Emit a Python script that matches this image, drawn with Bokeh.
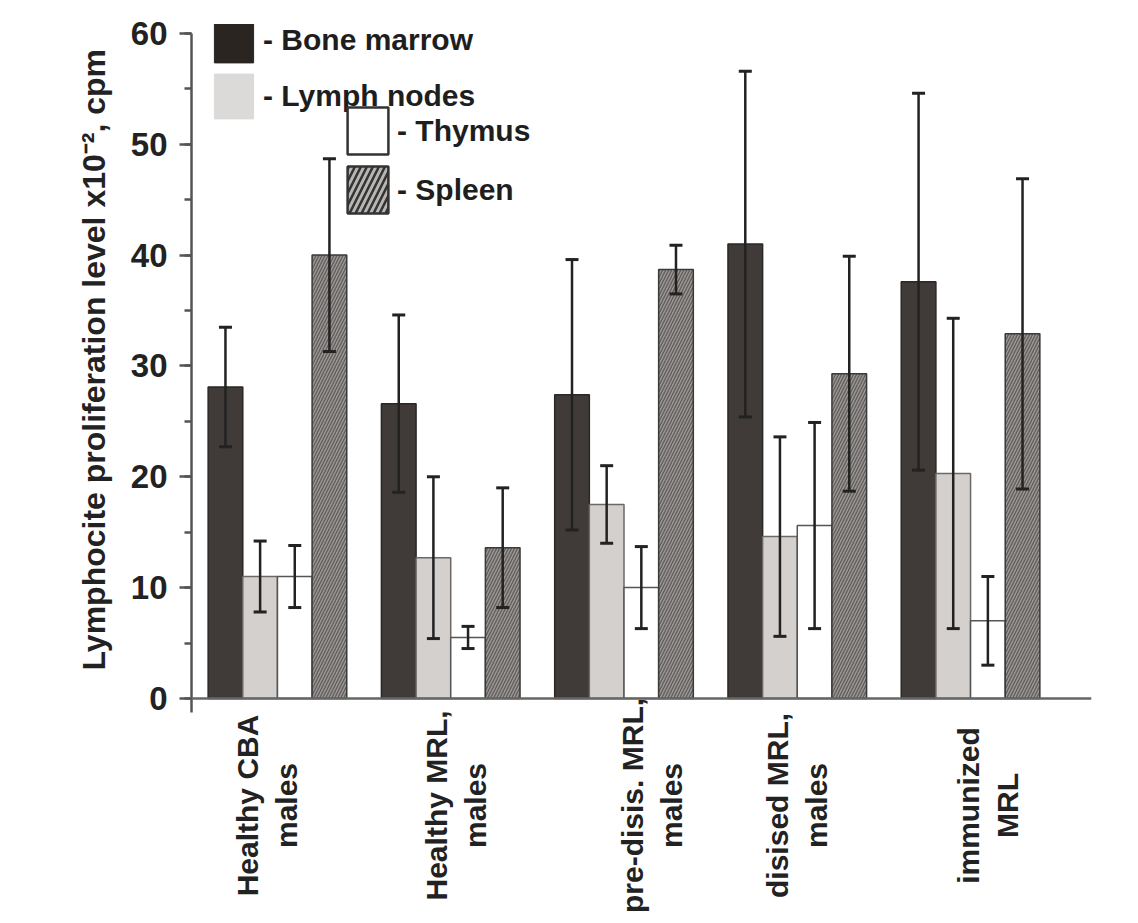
from math import pi
from bokeh.plotting import figure
from bokeh.models import (Range1d, ColumnDataSource, Whisker, TeeHead, Legend, LegendItem,
                          SingleIntervalTicker, Span, Title)
from bokeh.core.properties import value
from bokeh.embed import file_html
from bokeh.resources import INLINE

# ---------------- data ----------------
groups = ["Healthy CBA\nmales", "Healthy MRL,\nmales", "pre-disis. MRL,\nmales",
          "disised MRL,\nmales", "immunized\nMRL"]
series = ["Bone marrow", "Lymph nodes", "Thymus", "Spleen"]
bone_marrow = [28.1, 26.6, 27.4, 41.0, 37.6]
bone_marrow_sd = [5.4, 8.0, 12.2, 15.6, 17.0]
lymph_nodes = [11.0, 12.7, 17.5, 14.6, 20.3]
lymph_nodes_sd = [3.2, 7.3, 3.5, 9.0, 14.0]
thymus = [11.0, 5.5, 10.0, 15.6, 7.0]
thymus_sd = [2.8, 1.0, 3.7, 9.3, 4.0]
spleen = [40.0, 13.6, 38.7, 29.3, 32.9]
spleen_sd = [8.7, 5.4, 2.2, 10.6, 14.0]
y_ticks = [0, 10, 20, 30, 40, 50, 60]
y_title = "Lymphocite proliferation level x10\u207b\u00b2, cpm"

# ---------------- layout / style ----------------
FONT = "Liberation Sans"
BAR_W = 0.2
OFFSETS = [-0.3, -0.1, 0.1, 0.3]
LABEL_SHIFT = [-0.06, 0.03, 0.16, 0.0, 0.1]   # label block centre relative to group
LINE_GAP = 0.112                               # half distance between the two label lines
LABEL_Y = -9.66                                # label block centre (data units below 0)
STYLES = [
    dict(fill_color="#403b38", line_color="#2a2725"),
    dict(fill_color="#d3d0ce", line_color="#6b6866"),
    dict(fill_color="#ffffff", line_color="#555555"),
    dict(fill_color="#9a9795", line_color="#3a3a3a", hatch_pattern="/",
         hatch_color="#5f5c5a", hatch_scale=6, hatch_weight=1.3),
]
LEG_STYLES = [
    dict(fill_color="#2b2522", line_color="#2b2522"),
    dict(fill_color="#dcdad9", line_color="#dcdad9"),
    dict(fill_color="#ffffff", line_color="#333333", line_width=2.5),
    dict(fill_color="#b8b5b3", line_color="#333333", line_width=2.5, hatch_pattern="/",
         hatch_color="#333333", hatch_scale=12, hatch_weight=2.5),
]

p = figure(width=1138, height=923, x_range=Range1d(-0.496, 4.698), y_range=Range1d(-20.31, 60.81),
           output_backend="svg", toolbar_location=None, x_axis_location=None,
           min_border_left=191, min_border_right=47, min_border_top=24, min_border_bottom=0)
p.grid.visible = False
p.outline_line_color = None
p.background_fill_color = "white"

values = [bone_marrow, lymph_nodes, thymus, spleen]
sds = [bone_marrow_sd, lymph_nodes_sd, thymus_sd, spleen_sd]

for s, (vals, sd, off, st) in enumerate(zip(values, sds, OFFSETS, STYLES)):
    xs = [i + off for i in range(len(groups))]
    src = ColumnDataSource(dict(x=xs, top=vals,
                                upper=[v + e for v, e in zip(vals, sd)],
                                lower=[v - e for v, e in zip(vals, sd)]))
    p.vbar(x="x", top="top", bottom=0, width=BAR_W, source=src, line_width=1.5, **st)
    w = Whisker(source=src, base="x", upper="upper", lower="lower", dimension="height",
                line_color="#222222", line_width=2.5, level="annotation",
                upper_head=TeeHead(size=13, line_color="#222222", line_width=3),
                lower_head=TeeHead(size=13, line_color="#222222", line_width=3))
    p.add_layout(w)

# x axis line at y = 0
p.add_layout(Span(location=0, dimension="width", line_color="#666666", line_width=2.5))

# legend (hidden NaN renderers so swatches can be styled separately)
nan = float("nan")
leg_r = [p.vbar(x=[nan], top=[nan], width=BAR_W, **st) for st in LEG_STYLES]
leg_common = dict(orientation="vertical", padding=0, margin=0, border_line_color=None,
                  background_fill_alpha=0, label_text_font=FONT, label_text_font_size="30px",
                  label_text_font_style="bold", label_text_color="#1e1e1e")
leg1 = Legend(items=[LegendItem(label="- " + series[0], renderers=[leg_r[0]], index=0),
                     LegendItem(label="- " + series[1], renderers=[leg_r[1]], index=0)],
              location=(18, 574 + 225), glyph_width=49, glyph_height=56, spacing=-6,
              label_standoff=5, **leg_common)
leg2 = Legend(items=[LegendItem(label="- " + series[2], renderers=[leg_r[2]], index=0),
                     LegendItem(label="- " + series[3], renderers=[leg_r[3]], index=0)],
              location=(151, 479 + 225), glyph_width=51, glyph_height=59, spacing=-4,
              label_standoff=4, **leg_common)
p.add_layout(leg1)
p.add_layout(leg2)

# y axis
yax = p.yaxis[0]
yax.ticker = SingleIntervalTicker(interval=10, num_minor_ticks=2)
yax.bounds = (-1.3, y_ticks[-1])
yax.axis_line_color = "#555555"
yax.axis_line_width = 2.5
yax.major_tick_line_color = "#555555"
yax.major_tick_line_width = 2.5
yax.major_tick_in = 0
yax.major_tick_out = 12
yax.minor_tick_line_color = "#555555"
yax.minor_tick_line_width = 2.5
yax.minor_tick_in = 0
yax.minor_tick_out = 7
yax.major_label_text_font = FONT
yax.major_label_text_font_size = "33px"
yax.major_label_text_font_style = "bold"
yax.major_label_text_color = "#222222"
yax.major_label_standoff = 12

# y-axis title, placed along the 0..60 part of the axis
p.add_layout(Title(text=y_title, align="left", offset=253, standoff=32,
                   text_font=FONT, text_font_size="32px", text_font_style="bold",
                   text_color="#222222"), "left")

# category labels (two centred lines each, rotated)
line1 = [g.split("\n")[0] for g in groups]
line2 = [g.split("\n")[1] for g in groups]
centres = [i + d for i, d in enumerate(LABEL_SHIFT)]
lab_src = ColumnDataSource(dict(x1=[c - LINE_GAP for c in centres],
                                x2=[c + LINE_GAP for c in centres],
                                y=[LABEL_Y] * len(groups), t1=line1, t2=line2))
for xcol, tcol in (("x1", "t1"), ("x2", "t2")):
    p.text(x=xcol, y="y", text=tcol, source=lab_src, angle=pi / 2,
           text_align="center", text_baseline="middle", text_font=value(FONT),
           text_font_size="30px", text_font_style="bold", text_color="#222222")

open("out.html", "w").write(file_html(p, INLINE))
